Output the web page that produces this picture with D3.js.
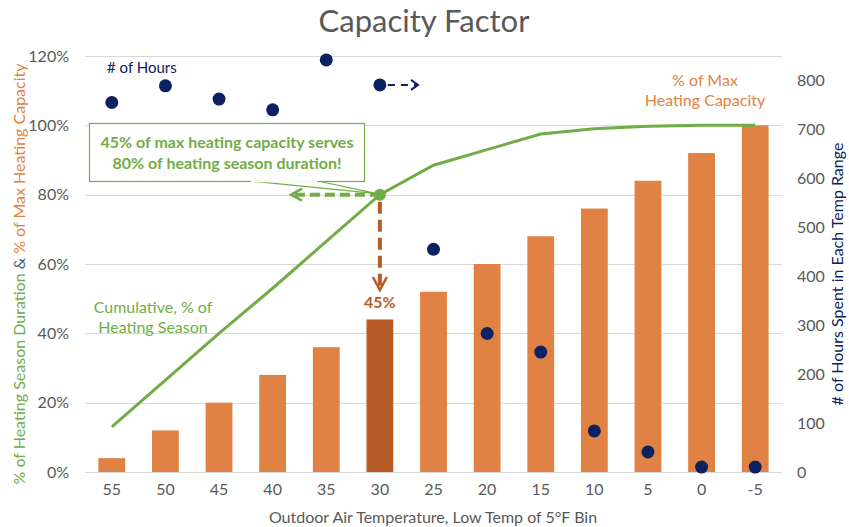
<!DOCTYPE html>
<html>
<head>
<meta charset="utf-8">
<script src="https://cdn.jsdelivr.net/npm/d3@7"></script>
<style>
  body { margin: 0; background: #fff; }
  svg { display: block; font-family: Lato, "Open Sans", sans-serif; }
</style>
</head>
<body>
<svg id="chart"></svg>
<script>
var temps = ["55", "50", "45", "40", "35", "30", "25", "20", "15", "10", "5", "0", "-5"];
var capacity = [0.04, 0.12, 0.20, 0.28, 0.36, 0.44, 0.52, 0.60, 0.68, 0.76, 0.84, 0.92, 1.00];
var cumulative = [0.13, 0.265, 0.40, 0.53, 0.665, 0.80, 0.885, 0.93, 0.975, 0.99, 0.997, 1.0, 1.0];
var hours = [755, 789, 762, 740, 842, 791, 455, 283, 245, 84, 41, 10, 10];
var leftTicks = [0, 0.2, 0.4, 0.6, 0.8, 1.0, 1.2];
var rightTicks = [0, 100, 200, 300, 400, 500, 600, 700, 800];
var highlight = "30";

function init() {
    var w = 849;
    var h = 527;

    var grey = "#595959";
    var green = "#70AD47";
    var orange = "#E08243";
    var darkOrange = "#B85C27";
    var navy = "#0B2160";

    var svg = d3.select("#chart")
                .attr("width", w)
                .attr("height", h);

    var x = d3.scaleBand()
              .domain(temps)
              .range([85, 782])
              .paddingInner(0.5)
              .paddingOuter(0.25);

    var y = d3.scaleLinear().domain([0, 1.2]).range([472, 56]);
    var y2 = d3.scaleLinear().domain([0, 850]).range([472, 56]);

    var cx = function(d) { return x(d) + x.bandwidth() / 2; };

    // title
    svg.append("text")
        .attr("x", 424)
        .attr("y", 32)
        .attr("text-anchor", "middle")
        .attr("fill", grey)
        .style("font-size", "31px")
        .text("Capacity Factor");

    // grid
    svg.append("g")
        .selectAll("line")
        .data(leftTicks)
        .enter()
        .append("line")
        .attr("x1", 85)
        .attr("x2", 782)
        .attr("y1", function(d) { return Math.round(y(d)) + 0.5; })
        .attr("y2", function(d) { return Math.round(y(d)) + 0.5; })
        .attr("stroke", "#d9d9d9")
        .attr("stroke-width", 1.2);

    // left axis
    var leftAxis = d3.axisLeft(y)
                     .tickValues(leftTicks)
                     .tickFormat(d3.format(".0%"))
                     .tickSize(0)
                     .tickPadding(0);
    var gl = svg.append("g").attr("transform", "translate(69,0)").call(leftAxis);
    gl.select(".domain").remove();
    gl.selectAll("text").attr("fill", grey).style("font-size", "16px")
      .style("font-family", "Lato, sans-serif");

    // right axis
    var rightAxis = d3.axisRight(y2)
                      .tickValues(rightTicks)
                      .tickSize(0)
                      .tickPadding(0);
    var gr = svg.append("g").attr("transform", "translate(797,0)").call(rightAxis);
    gr.select(".domain").remove();
    gr.selectAll("text").attr("fill", grey).style("font-size", "16px")
      .style("font-family", "Lato, sans-serif");

    // x axis
    var bottomAxis = d3.axisBottom(x).tickSize(0).tickPadding(0);
    var gb = svg.append("g").attr("transform", "translate(0,484)").call(bottomAxis);
    gb.select(".domain").remove();
    gb.selectAll("text").attr("fill", grey).style("font-size", "16px")
      .style("font-family", "Lato, sans-serif");

    // axis titles
    svg.append("text")
        .attr("x", 433)
        .attr("y", 523)
        .attr("text-anchor", "middle")
        .attr("fill", grey)
        .style("font-size", "16px")
        .text("Outdoor Air Temperature, Low Temp of 5°F Bin");

    var lt = svg.append("text")
        .attr("transform", "translate(25,274) rotate(-90)")
        .attr("text-anchor", "middle")
        .style("font-size", "16px");
    lt.append("tspan").attr("fill", green).text("% of Heating Season Duration ");
    lt.append("tspan").attr("fill", grey).text("& ");
    lt.append("tspan").attr("fill", orange).text("% of Max Heating Capacity");

    svg.append("text")
        .attr("transform", "translate(843,274) rotate(-90)")
        .attr("text-anchor", "middle")
        .attr("fill", navy)
        .style("font-size", "16px")
        .text("# of Hours Spent in Each Temp Range");

    // bars
    svg.append("g")
        .selectAll("rect")
        .data(capacity)
        .enter()
        .append("rect")
        .attr("x", function(d, i) { return x(temps[i]); })
        .attr("y", function(d) { return y(d); })
        .attr("width", x.bandwidth())
        .attr("height", function(d) { return y(0) - y(d); })
        .attr("fill", function(d, i) { return temps[i] === highlight ? darkOrange : orange; });

    // cumulative line
    var line = d3.line()
                 .x(function(d, i) { return cx(temps[i]); })
                 .y(function(d) { return y(d); });
    svg.append("path")
        .datum(cumulative)
        .attr("d", line)
        .attr("fill", "none")
        .attr("stroke", green)
        .attr("stroke-width", 3);

    // hours dots
    svg.append("g")
        .selectAll("circle")
        .data(hours)
        .enter()
        .append("circle")
        .attr("cx", function(d, i) { return cx(temps[i]); })
        .attr("cy", function(d) { return y2(d); })
        .attr("r", 6.5)
        .attr("fill", navy);

    // annotations
    var hi = temps.indexOf(highlight);
    var px = cx(highlight);
    var py = y(cumulative[hi]);

    // callout box
    svg.append("path")
        .attr("d", "M250,181 L" + (px - 3) + "," + (py - 1) + " L318,181")
        .attr("fill", "#fff")
        .attr("stroke", green)
        .attr("stroke-width", 1.2);
    svg.append("rect")
        .attr("x", 89.5)
        .attr("y", 123.5)
        .attr("width", 275)
        .attr("height", 58)
        .attr("fill", "#fff")
        .attr("stroke", green)
        .attr("stroke-width", 1.2);
    svg.append("line")
        .attr("x1", 251).attr("x2", 317)
        .attr("y1", 181.5).attr("y2", 181.5)
        .attr("stroke", "#fff").attr("stroke-width", 1.5);
    svg.append("text")
        .attr("x", 227)
        .attr("y", 148)
        .attr("text-anchor", "middle")
        .attr("fill", green)
        .style("font-size", "16px")
        .style("font-weight", "bold")
        .text("45% of max heating capacity serves");
    svg.append("text")
        .attr("x", 227)
        .attr("y", 169)
        .attr("text-anchor", "middle")
        .attr("fill", green)
        .style("font-size", "16px")
        .style("font-weight", "bold")
        .text("80% of heating season duration!");

    // green dashed arrow to the left
    svg.append("line")
        .attr("x1", px).attr("x2", 293)
        .attr("y1", py).attr("y2", py)
        .attr("stroke", green)
        .attr("stroke-width", 4)
        .attr("stroke-dasharray", "10,5");
    svg.append("path")
        .attr("d", "M302," + (py - 6) + " L291," + py + " L302," + (py + 6))
        .attr("fill", "none")
        .attr("stroke", green)
        .attr("stroke-width", 2.5);
    svg.append("circle")
        .attr("cx", px)
        .attr("cy", py)
        .attr("r", 6)
        .attr("fill", green);

    // orange dashed arrow down
    svg.append("line")
        .attr("x1", px).attr("x2", px)
        .attr("y1", py + 7).attr("y2", 288)
        .attr("stroke", darkOrange)
        .attr("stroke-width", 4)
        .attr("stroke-dasharray", "12,6");
    svg.append("path")
        .attr("d", "M" + (px - 7) + ",277 L" + px + ",290 L" + (px + 7) + ",277")
        .attr("fill", "none")
        .attr("stroke", darkOrange)
        .attr("stroke-width", 2.5);
    svg.append("text")
        .attr("x", px)
        .attr("y", 308)
        .attr("text-anchor", "middle")
        .attr("fill", darkOrange)
        .style("font-size", "16px")
        .style("font-weight", "bold")
        .text("45%");

    // navy dashed arrow
    var nx = cx(highlight);
    var ny = y2(hours[hi]);
    svg.append("line")
        .attr("x1", nx + 8).attr("x2", 416)
        .attr("y1", ny).attr("y2", ny)
        .attr("stroke", navy)
        .attr("stroke-width", 2)
        .attr("stroke-dasharray", "7,6");
    svg.append("path")
        .attr("d", "M411," + (ny - 5) + " L418," + ny + " L411," + (ny + 5))
        .attr("fill", "none")
        .attr("stroke", navy)
        .attr("stroke-width", 2);

    // series labels
    svg.append("text")
        .attr("x", 107)
        .attr("y", 73)
        .attr("fill", navy)
        .style("font-size", "15px")
        .text("# of Hours");

    svg.append("text")
        .attr("x", 705)
        .attr("y", 86)
        .attr("text-anchor", "middle")
        .attr("fill", orange)
        .style("font-size", "16px")
        .text("% of Max");
    svg.append("text")
        .attr("x", 705)
        .attr("y", 106)
        .attr("text-anchor", "middle")
        .attr("fill", orange)
        .style("font-size", "16px")
        .text("Heating Capacity");

    svg.append("text")
        .attr("x", 153)
        .attr("y", 313)
        .attr("text-anchor", "middle")
        .attr("fill", green)
        .style("font-size", "16px")
        .text("Cumulative, % of");
    svg.append("text")
        .attr("x", 153)
        .attr("y", 333)
        .attr("text-anchor", "middle")
        .attr("fill", green)
        .style("font-size", "16px")
        .text("Heating Season");
}
window.onload = init;
</script>
</body>
</html>
